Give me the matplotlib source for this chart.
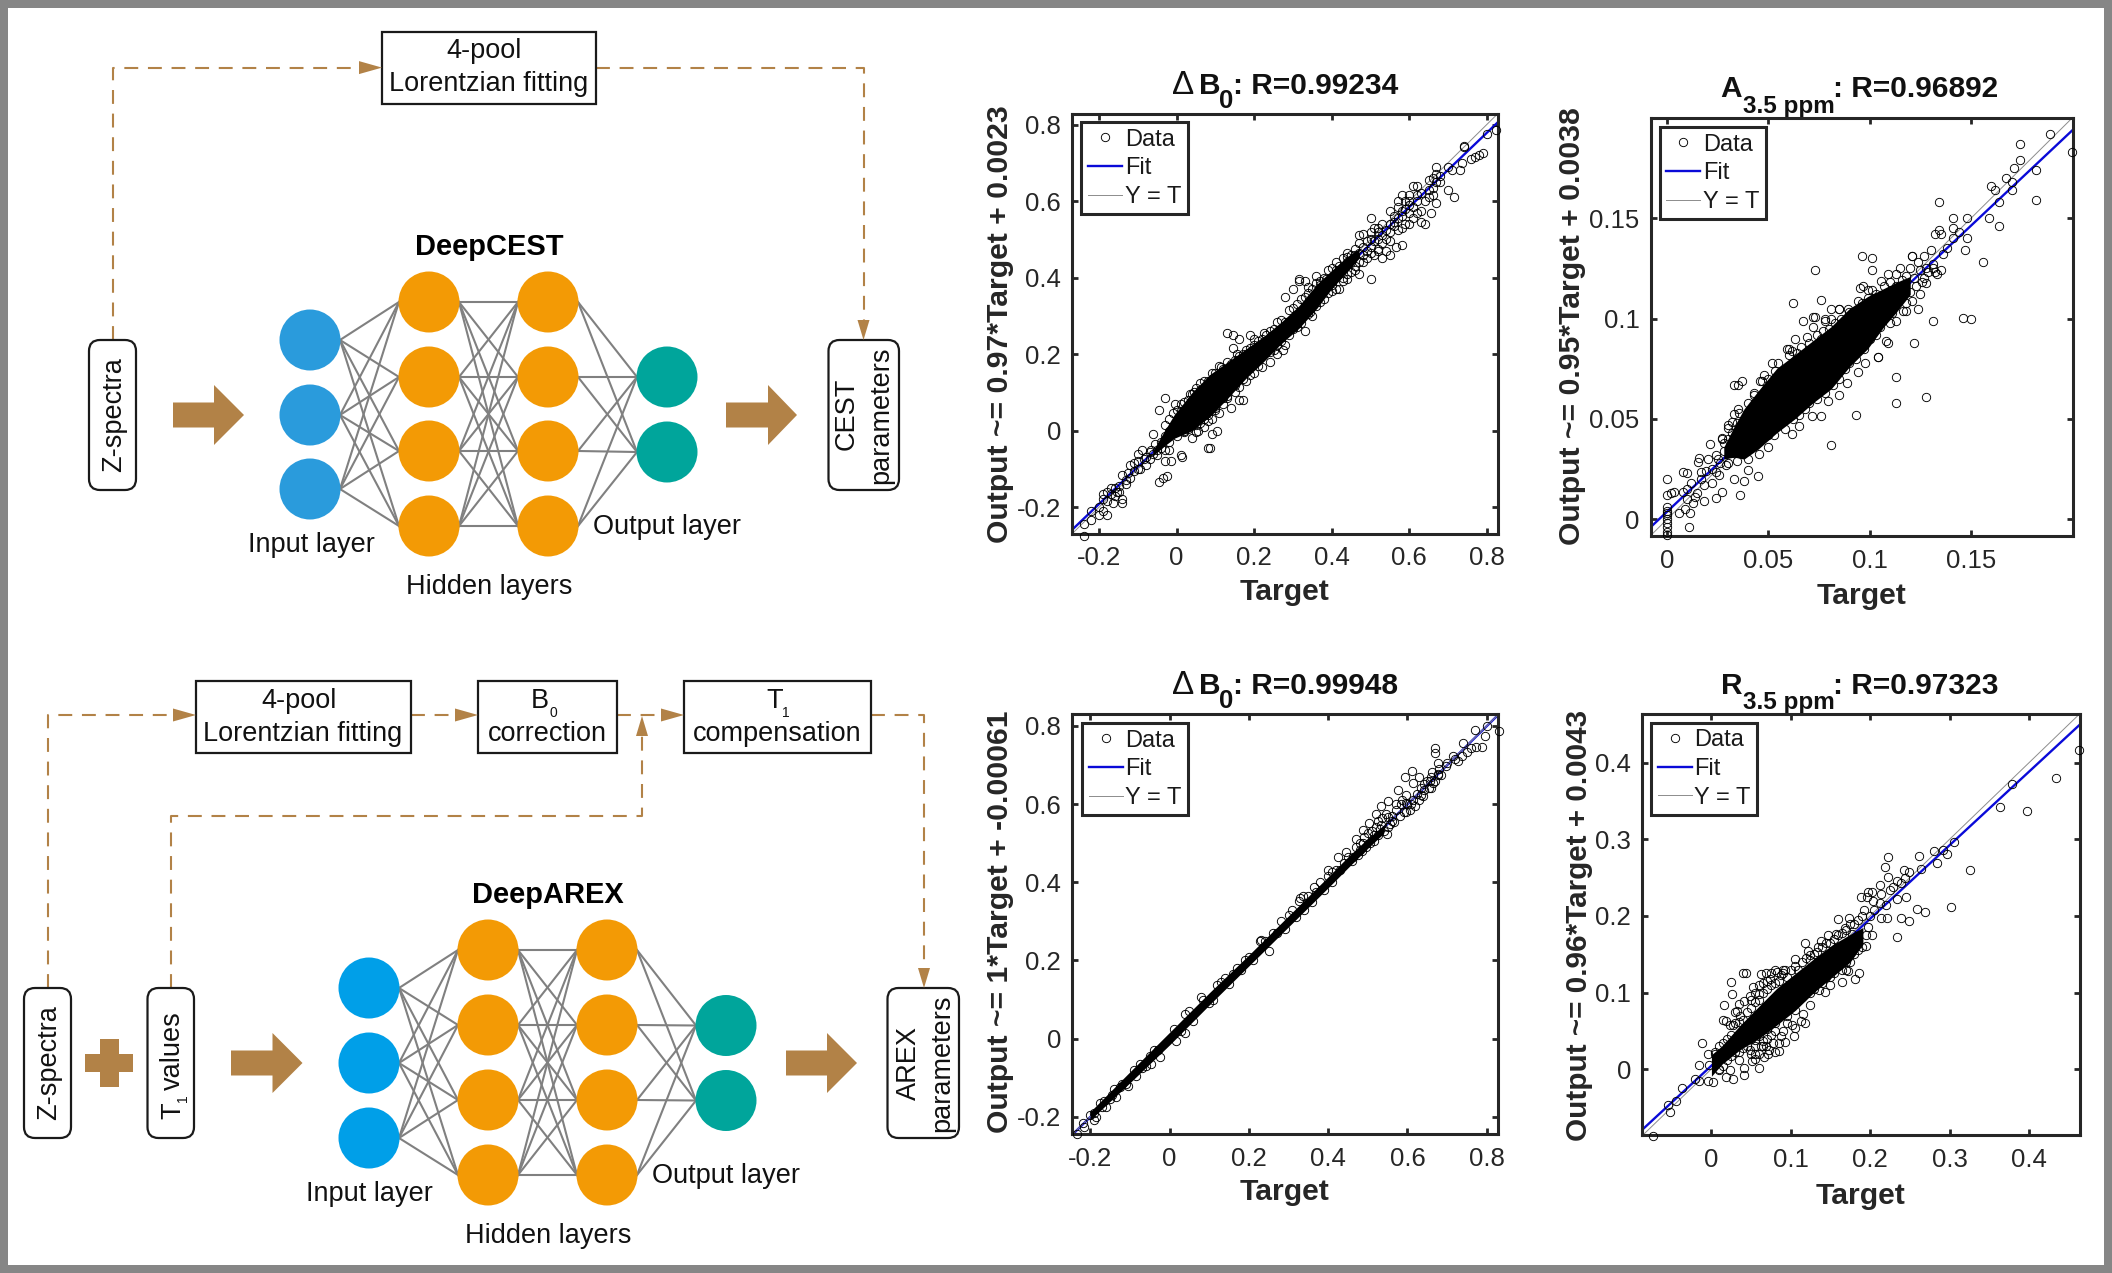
import matplotlib
matplotlib.use("Agg")
import matplotlib.pyplot as plt
from matplotlib.patches import Rectangle, Ellipse, FancyBboxPatch, Polygon

plt.rcParams['font.family'] = ['Liberation Sans', 'DejaVu Sans']
plt.rcParams['lines.scale_dashes'] = False

INK = '#262626'
BROWN = '#B28247'
GREY = '#808080'
ORANGE = '#F39A05'
TEAL = '#00A59B'

# ---------- panel data ----------
ticks_a = [-0.2, 0, 0.2, 0.4, 0.6, 0.8]
tick_labels_a = ['-0.2', '0', '0.2', '0.4', '0.6', '0.8']
ticks_b = [0, 0.05, 0.1, 0.15]
tick_labels_b = ['0', '0.05', '0.1', '0.15']
ticks_d = [0, 0.1, 0.2, 0.3, 0.4]
tick_labels_d = ['0', '0.1', '0.2', '0.3', '0.4']

fit_a = (0.97, 0.0023)
fit_b = (0.95, 0.0038)
fit_c = (1.0, -0.00061)
fit_d = (0.96, 0.0043)

# dense core of each cloud: target, lower output edge, upper output edge
core_a_x = [-0.06, -0.034, -0.006, 0.04, 0.086, 0.132, 0.178, 0.224, 0.27, 0.316, 0.362, 0.399, 0.44, 0.47]
core_a_lo = [-0.065, -0.042, -0.02, 0.0, 0.037, 0.085, 0.136, 0.18, 0.228, 0.268, 0.32, 0.37, 0.415, 0.45]
core_a_hi = [-0.05, -0.005, 0.042, 0.1, 0.147, 0.18, 0.213, 0.246, 0.284, 0.327, 0.383, 0.418, 0.455, 0.475]

core_b_x = [0.028, 0.033, 0.038, 0.045, 0.054, 0.063, 0.072, 0.081, 0.090, 0.099, 0.107, 0.113, 0.12]
core_b_lo = [0.03, 0.031, 0.030, 0.035, 0.043, 0.05, 0.058, 0.065, 0.076, 0.085, 0.096, 0.103, 0.112]
core_b_hi = [0.036, 0.046, 0.055, 0.064, 0.075, 0.082, 0.089, 0.096, 0.105, 0.111, 0.115, 0.118, 0.121]

core_c_x = [-0.2, -0.1, 0, 0.1, 0.2, 0.3, 0.4, 0.45, 0.5, 0.54]
core_c_lo = [-0.208, -0.113, -0.016, 0.086, 0.186, 0.286, 0.386, 0.437, 0.487, 0.525]
core_c_hi = [-0.187, -0.085, 0.016, 0.117, 0.214, 0.314, 0.414, 0.465, 0.512, 0.545]

core_d_x = [0.0005, 0.014, 0.037, 0.06, 0.083, 0.106, 0.129, 0.152, 0.175, 0.191]
core_d_lo = [-0.009, 0.007, 0.026, 0.04, 0.058, 0.077, 0.1, 0.12, 0.14, 0.163]
core_d_hi = [0.019, 0.031, 0.058, 0.082, 0.106, 0.125, 0.144, 0.162, 0.176, 0.185]

# individually visible circles (target, output)
points_a = [
 (0.823,0.785),(0.80,0.775),(0.78,0.72),(0.77,0.715),(0.79,0.725),(0.76,0.71),(0.74,0.745),(0.74,0.74),(0.73,0.68),
 (0.735,0.70),(0.71,0.68),(0.70,0.69),(0.67,0.69),(0.67,0.67),(0.66,0.66),(0.67,0.65),(0.68,0.65),(0.65,0.63),
 (0.66,0.635),(0.70,0.63),(0.715,0.61),(0.67,0.595),(0.61,0.64),(0.62,0.64),(0.58,0.615),(0.57,0.60),(0.60,0.59),
 (0.62,0.60),(0.64,0.60),(0.63,0.575),(0.655,0.57),(0.64,0.54),(0.60,0.57),(0.58,0.56),(0.56,0.56),(0.55,0.52),
 (0.50,0.555),(0.53,0.54),(0.52,0.53),(0.48,0.515),(0.47,0.51),(0.52,0.50),(0.54,0.50),(0.56,0.535),(0.58,0.53),
 (0.60,0.54),(0.565,0.48),(0.58,0.485),(0.55,0.46),(0.53,0.45),(0.54,0.47),(0.45,0.46),(0.49,0.47),(0.50,0.48),
 (0.43,0.45),(0.44,0.44),(0.46,0.43),(0.48,0.44),(0.41,0.42),(0.42,0.43),(0.50,0.395),(0.46,0.42),(0.43,0.40),
 (0.39,0.42),(0.36,0.405),(0.315,0.39),(0.315,0.395),(0.30,0.37),(0.28,0.35),(0.34,0.36),(0.33,0.39),(0.38,0.37),
 (0.42,0.37),(0.37,0.39),(0.345,0.31),(0.31,0.27),(0.275,0.21),(0.26,0.20),(0.13,0.255),(0.145,0.25),(0.19,0.25),
 (0.16,0.24),(0.145,0.215),(0.2,0.24),(0.155,0.20),(0.225,0.255),(0.115,0.165),(0.06,0.125),(0.08,0.13),(0.045,0.10),
 (-0.03,0.085),(-0.045,0.055),(-0.005,0.07),(0.01,0.07),(0.02,0.05),(0.12,0.07),(0.15,0.10),(0.17,0.08),(0.16,0.08),
 (0.14,0.06),(0.10,0.055),(0.105,0.0),(0.07,0.01),(0.09,-0.01),(0.085,-0.045),(0.08,-0.045),(0.055,0.0),(0.04,-0.02),
 (0.01,-0.065),(0.015,-0.07),(-0.02,-0.05),(-0.03,-0.08),(-0.015,-0.08),(-0.025,-0.12),(-0.035,-0.125),(-0.045,-0.135),
 (-0.24,-0.275),(-0.24,-0.245),(-0.22,-0.235),(-0.22,-0.21),(-0.19,-0.21),(-0.18,-0.22),(-0.18,-0.16),(-0.16,-0.15),
 (-0.15,-0.145),(-0.14,-0.18),(-0.14,-0.19),(-0.14,-0.115),(-0.12,-0.09),(-0.1,-0.06),(-0.09,-0.05),(-0.06,-0.01),
 (-0.03,0.015),(-0.2,-0.2),(-0.19,-0.18),(-0.17,-0.165),(-0.165,-0.19),(-0.155,-0.16),(-0.13,-0.14),(-0.125,-0.11),
 (-0.11,-0.105),(-0.1,-0.1),(-0.085,-0.075),(-0.07,-0.075),(-0.065,-0.05),(-0.05,-0.05),(-0.04,-0.03),(-0.02,-0.03),
 (0.0,0.01),(0.02,-0.005),(0.05,0.015),(0.08,0.025),(0.13,0.085),(0.18,0.13),(0.2,0.15),(0.24,0.18),(0.28,0.225),
 (0.33,0.26),(0.35,0.3),(0.38,0.345),(0.40,0.365),(0.44,0.395),(0.47,0.41),(0.51,0.46),(0.52,0.47),(0.48,0.46),
 (0.035,0.095),(0.09,0.15),(0.11,0.17),(0.15,0.185),(0.19,0.215),(0.23,0.25),(0.26,0.285),(0.29,0.315),(0.31,0.33),
 (0.34,0.375),(0.38,0.40),(0.40,0.425),(0.44,0.465),(0.46,0.475),(0.47,0.49),(0.50,0.52),(0.51,0.53),(0.55,0.575),
 (0.57,0.585),(0.59,0.60),(0.60,0.615),(0.63,0.62),(0.65,0.655),
]
edge_a = [
 (-0.02,0.03),(-0.01,0.045),(0.0,0.055),(0.01,0.05),(0.02,0.075),(0.03,0.08),(0.04,0.095),(0.05,0.11),(0.06,0.105),
 (0.07,0.13),(0.08,0.115),(0.09,0.135),(0.1,0.15),(0.11,0.145),(0.12,0.16),(0.13,0.18),(0.14,0.175),(0.16,0.195),
 (0.17,0.2),(0.18,0.21),(0.2,0.225),(0.21,0.235),(0.22,0.24),(0.24,0.26),(0.25,0.265),(0.27,0.29),(0.28,0.285),
 (0.3,0.32),(0.32,0.345),(0.33,0.35),(0.35,0.37),(0.36,0.385),(0.37,0.38),(0.385,0.395),(0.41,0.44),(0.42,0.42),
 (0.43,0.425),(0.44,0.455),(0.45,0.44),(0.46,0.46),(0.47,0.465),(0.48,0.48),(0.49,0.495),(0.5,0.5),(0.51,0.495),
 (0.52,0.52),(0.53,0.51),(0.54,0.525),(0.55,0.54),(0.56,0.545),(0.57,0.555),(0.58,0.575),(0.59,0.58),(0.6,0.6),
 (0.61,0.585),(0.62,0.615),(0.65,0.61),(0.66,0.615),(0.68,0.665),
 (0.0,-0.015),(0.02,0.0),(0.03,0.005),(0.05,-0.005),(0.06,0.02),(0.07,0.03),(0.08,0.04),(0.09,0.03),(0.1,0.06),
 (0.11,0.045),(0.12,0.085),(0.13,0.09),(0.15,0.12),(0.16,0.115),(0.17,0.135),(0.19,0.145),(0.21,0.17),(0.22,0.165),
 (0.24,0.205),(0.25,0.21),(0.26,0.225),(0.27,0.235),(0.29,0.25),(0.3,0.265),(0.32,0.28),(0.34,0.305),(0.36,0.325),
 (0.37,0.335),(0.39,0.36),(0.4,0.38),(0.41,0.37),(0.43,0.39),(0.44,0.41),(0.45,0.415),(0.47,0.44),(0.49,0.45),
 (0.5,0.465),(0.52,0.475),(0.53,0.49),(0.55,0.495),(0.57,0.525),(0.59,0.54),(0.61,0.555),(0.62,0.57),(0.63,0.545),
 (-0.13,-0.13),(-0.12,-0.125),(-0.11,-0.085),(-0.1,-0.08),(-0.095,-0.1),(-0.08,-0.07),(-0.08,-0.09),(-0.07,-0.055),
 (-0.06,-0.06),(-0.055,-0.035),(-0.05,-0.065),(-0.04,-0.045),(-0.03,-0.015),(-0.03,-0.05),(-0.02,0.0),(-0.15,-0.16),
 (-0.16,-0.17),(-0.17,-0.15),(-0.18,-0.185),(-0.19,-0.165),(-0.2,-0.22),
]

points_b = [
 (0.189,0.192),(0.174,0.187),(0.20,0.183),(0.174,0.179),(0.171,0.175),(0.182,0.174),(0.167,0.170),(0.170,0.168),
 (0.160,0.166),(0.162,0.164),(0.170,0.164),(0.182,0.159),(0.134,0.158),(0.164,0.158),(0.159,0.150),(0.141,0.150),
 (0.148,0.150),(0.164,0.146),(0.141,0.145),(0.134,0.144),(0.135,0.142),(0.132,0.142),(0.144,0.143),(0.148,0.140),
 (0.141,0.140),(0.138,0.135),(0.147,0.134),(0.156,0.128),(0.130,0.134),(0.127,0.131),(0.121,0.131),(0.124,0.128),
 (0.136,0.132),(0.133,0.122),(0.131,0.125),(0.129,0.123),(0.127,0.120),
 (0.096,0.131),(0.101,0.130),(0.101,0.124),(0.073,0.124),(0.095,0.115),(0.099,0.114),(0.062,0.108),(0.076,0.109),
 (0.081,0.105),(0.085,0.105),(0.067,0.099),(0.073,0.101),(0.078,0.100),(0.146,0.1005),(0.150,0.100),(0.131,0.099),
 (0.122,0.088),(0.109,0.088),(0.104,0.081),(0.113,0.071),(0.113,0.058),(0.128,0.061),(0.093,0.052),(0.081,0.037),
 (0.033,0.067),(0.035,0.067),(0.037,0.069),(0.047,0.069),(0.052,0.078),(0.060,0.085),(0.0615,0.084),(0.072,0.101),
 (0.045,0.0215),(0.036,0.012),(0.011,-0.004),(0,0.020),(0.008,0.0237),(0.010,0.023),(0,0.012),(0.002,0.013),
 (0.0035,0.0137),(0.008,0.0137),(0.010,0.015),(0.0115,0.003),(0.006,0.003),(0.009,0.005),
 (0,0.006),(0,0.004),(0,0.003),(0,0.002),(0,0),(0,-0.002),(0,-0.004),(0,-0.0065),(0,-0.008),
 (0.021,0.0376),(0.0157,0.0306),(0.0153,0.0286),(0.027,0.04),(0.015,0.013),(0.018,0.009),(0.013,0.008),(0.024,0.0105),
 (0.027,0.0137),(0.033,0.02),(0.038,0.019),(0.04,0.0246),(0.0346,0.029),(0.029,0.027),(0.022,0.018),(0.018,0.017),
 (0.0256,0.022),(0.024,0.0237),(0.0166,0.0237),
 (0.033,0.0526),(0.0355,0.053),(0.032,0.0487),(0.027,0.0403),(0.03,0.0454),(0.0346,0.048),(0.0427,0.0617),(0.046,0.069),
 (0.049,0.065),(0.0535,0.074),(0.059,0.085),(0.063,0.0897),(0.069,0.0906),(0.072,0.096),(0.078,0.0988),(0.077,0.094),
 (0.081,0.0997),(0.085,0.105),(0.0895,0.105),(0.094,0.1087),(0.0967,0.116),(0.101,0.114),(0.1057,0.1187),(0.109,0.122),
 (0.113,0.122),(0.115,0.125),(0.12,0.125),(0.121,0.131),
 (0.0454,0.0327),(0.0526,0.0418),(0.0616,0.0427),(0.065,0.0463),(0.0715,0.0517),(0.076,0.0517),(0.0796,0.059),
 (0.085,0.0617),(0.0886,0.068),(0.094,0.0735),(0.0976,0.078),(0.104,0.0807),(0.108,0.0888),(0.113,0.0988),(0.111,0.103),
 (0.1165,0.104),(0.118,0.104),(0.1237,0.105),(0.1246,0.1124),(0.121,0.1087),(0.128,0.1178),(0.135,0.124),(0.132,0.123),
 (0.131,0.127),
]
edge_b = [
 (0.03,0.047),(0.035,0.055),(0.04,0.058),(0.043,0.063),(0.048,0.072),(0.05,0.07),(0.055,0.078),(0.058,0.074),(0.06,0.082),
 (0.064,0.083),(0.066,0.086),(0.07,0.088),(0.074,0.092),(0.076,0.09),(0.08,0.095),(0.083,0.098),(0.086,0.1),(0.09,0.1035),
 (0.093,0.104),(0.096,0.108),(0.099,0.11),(0.103,0.112),(0.107,0.116),(0.11,0.118),(0.113,0.116),(0.116,0.119),
 (0.118,0.121),(0.122,0.12),(0.125,0.124),(0.128,0.125),
 (0.025,0.03),(0.028,0.034),(0.03,0.028),(0.033,0.033),(0.036,0.036),(0.04,0.03),(0.042,0.037),(0.046,0.04),(0.05,0.036),
 (0.05,0.042),(0.055,0.049),(0.058,0.045),(0.062,0.05),(0.065,0.052),(0.068,0.055),(0.07,0.058),(0.074,0.06),(0.078,0.063),
 (0.082,0.067),(0.085,0.07),(0.088,0.075),(0.09,0.078),(0.093,0.08),(0.097,0.085),(0.1,0.09),(0.103,0.092),(0.105,0.096),
 (0.11,0.098),(0.112,0.1065),(0.115,0.11),(0.118,0.108),(0.12,0.113),(0.123,0.116),(0.126,0.118),
 (0.02,0.03),(0.022,0.025),(0.024,0.032),(0.026,0.028),(0.028,0.038),(0.03,0.04),(0.032,0.043),(0.019,0.024),(0.017,0.02),
 (0.012,0.018),(0.014,0.011),(0.01,0.01),
]

points_c = [
 (0.83,0.787),(0.8,0.8),(0.771,0.79),(0.795,0.775),(0.788,0.747),(0.773,0.747),(0.761,0.744),(0.741,0.756),(0.737,0.724),
 (0.714,0.724),(0.728,0.71),(0.70,0.705),(0.669,0.744),(0.669,0.731),(0.678,0.705),(0.662,0.682),(0.611,0.685),
 (0.629,0.668),(0.593,0.668),(0.575,0.636),(0.615,0.654),(0.642,0.65),(0.66,0.64),(0.597,0.622),(0.552,0.608),
 (0.534,0.594),(0.52,0.575),(0.503,0.552),(0.525,0.557),(0.489,0.533),(0.471,0.51),(0.444,0.478),(0.426,0.464),
 (0.399,0.431),(0.363,0.389),(0.327,0.352),(0.336,0.366),(0.25,0.224),(0.228,0.25),(0.079,0.106),(0.039,0.064),
 (-0.024,-0.047),(-0.047,-0.066),(-0.191,-0.207),(-0.218,-0.215),(-0.234,-0.243),(0.606,0.585),(0.633,0.622),
 (0.66,0.668),(0.678,0.678),(0.548,0.524),(0.561,0.557),(0.597,0.603),(0.57,0.585),(0.584,0.6),(0.534,0.547),
 (0.516,0.52),(0.489,0.501),(0.462,0.464),(0.48,0.482),(0.552,0.566),(0.642,0.636),(0.656,0.659),(0.678,0.673),
 (0.696,0.696),(0.75,0.733),(0.719,0.715),
 (-0.19,-0.19),(-0.17,-0.175),(-0.165,-0.16),(-0.145,-0.145),(-0.125,-0.125),(-0.11,-0.115),(-0.09,-0.08),(-0.07,-0.075),
 (-0.05,-0.045),(-0.03,-0.03),(0.12,0.138),(0.14,0.155),(0.16,0.165),(0.2,0.21),(0.23,0.252),(0.3,0.315),(0.33,0.36),
 (0.35,0.365),(0.38,0.4),(0.41,0.425),(0.27,0.27),(0.18,0.175),(0.1,0.09),(0.03,0.02),(0.04,0.015),
]
edge_c = [
 (0.42,0.43),(0.43,0.43),(0.44,0.45),(0.45,0.465),(0.46,0.455),(0.47,0.49),(0.475,0.47),(0.48,0.5),(0.485,0.48),(0.49,0.515),
 (0.495,0.49),(0.5,0.525),(0.505,0.5),(0.51,0.53),(0.515,0.505),(0.52,0.54),(0.525,0.52),(0.53,0.535),(0.535,0.565),
 (0.54,0.53),(0.545,0.575),(0.55,0.54),(0.555,0.55),(0.56,0.57),(0.565,0.555),(0.57,0.6),(0.58,0.57),(0.585,0.61),
 (0.59,0.58),(0.595,0.58),(0.6,0.6),(0.61,0.6),(0.615,0.61),(0.62,0.595),(0.625,0.625),(0.63,0.61),(0.635,0.64),
 (0.64,0.62),(0.65,0.66),(0.655,0.64),(0.665,0.655),(0.67,0.66),(0.68,0.69),(0.685,0.675),
 (-0.215,-0.225),(-0.2,-0.195),(-0.185,-0.2),(-0.175,-0.165),(-0.16,-0.175),(-0.15,-0.155),(-0.14,-0.13),(-0.135,-0.15),
 (-0.12,-0.115),(-0.105,-0.12),(-0.085,-0.095),(-0.075,-0.065),(-0.06,-0.07),(-0.04,-0.03),(0.01,0.025),(0.015,-0.005),
 (0.05,0.07),(0.06,0.045),(0.085,0.1),(0.11,0.1),(0.13,0.145),(0.15,0.14),(0.17,0.18),(0.19,0.2),(0.21,0.2),(0.24,0.25),
 (0.26,0.27),(0.28,0.3),(0.29,0.28),(0.31,0.33),(0.32,0.31),(0.34,0.33),(0.36,0.35),(0.37,0.375),(0.39,0.38),(0.40,0.415),
 (0.41,0.4),
]

points_d = [
 (0.463,0.417),(0.434,0.380),(0.397,0.337),(0.379,0.372),(0.363,0.342),(0.306,0.2966),(0.326,0.260),(0.3013,0.2117),
 (0.292,0.286),(0.2967,0.2805),(0.284,0.2686),(0.28,0.2848),(0.262,0.2776),(0.223,0.2767),(0.2187,0.264),(0.2646,0.2615),
 (0.2425,0.2596),(0.2485,0.2568),(0.222,0.2506),(0.244,0.2496),(0.239,0.2435),(0.234,0.2458),(0.229,0.2378),(0.212,0.241),
 (0.2255,0.234),(0.245,0.2245),(0.234,0.222),(0.214,0.229),(0.2026,0.2316),(0.197,0.2316),(0.189,0.2245),(0.1957,0.2245),
 (0.2035,0.2197),(0.213,0.2174),(0.22,0.214),(0.205,0.208),(0.259,0.209),(0.269,0.2055),(0.221,0.198),(0.214,0.197),
 (0.2384,0.1974),(0.2494,0.194),(0.2338,0.173),(0.2026,0.1747),(0.1948,0.1604),(0.1603,0.196),(0.1736,0.197),(0.2,0.2),
 (0.193,0.208),
 (0.044,0.1258),(0.0404,0.1258),(0.0257,0.1144),(0.0266,0.0978),(0.0165,0.0845),(0.0625,0.1248),(0.0694,0.1258),
 (0.081,0.1296),(0.083,0.127),(0.0877,0.1224),(0.074,0.1177),(0.0657,0.113),(0.0533,0.108),(0.06,0.0987),(0.0487,0.0963),
 (0.0418,0.0892),(0.0326,0.0764),(0.0363,0.0702),(0.0156,0.064),(0.0188,0.063),(0.028,0.0584),(0.0234,0.0584),
 (-0.011,0.0346),(-0.004,0.0204),(0.005,0.0228),(-0.0152,0.0062),(-0.002,0.0062),(-0.02,-0.0128),(-0.0363,-0.0247),
 (-0.0446,-0.0413),(-0.0547,-0.047),(-0.052,-0.0555),(-0.073,-0.0864),(-0.0156,-0.015),
 (0.1176,0.165),(0.122,0.154),(0.106,0.1438),(0.0932,0.1296),(0.1337,0.153),(0.138,0.1675),(0.1475,0.1747),(0.1245,0.1485),
 (0.1566,0.177),(0.168,0.184),(0.177,0.177),
 (0.1856,0.126),(0.181,0.1177),(0.165,0.1144),(0.17,0.1296),(0.1727,0.1286),(0.1497,0.1106),(0.143,0.101),(0.136,0.1035),
 (0.1185,0.0598),(0.1135,0.0631),(0.106,0.0536),(0.1015,0.0584),(0.0932,0.0356),(0.0854,0.0237),(0.081,0.0228),
 (0.0717,0.0204),(0.067,0.0157),(0.06,0.0014),(0.0556,0.0133),(0.051,0.0109),(0.035,0.0119),(0.0418,0.0014),(0.0418,-0.007),
 (0.028,-0.0128),(0.0234,-0.001),(0.0188,-0.0104),(0.0096,-0.001),(0.0028,-0.016),(-0.004,-0.015),(0.0694,0.03),
 (0.0785,0.0346),(0.06,0.044),(0.0648,0.037),(0.0487,0.025),(0.0556,0.03),(0.0877,0.044),(0.1038,0.044),(0.1153,0.0726),
 (0.1245,0.0845),
]
edge_d = [
 (0.005,0.02),(0.01,0.03),(0.015,0.035),(0.02,0.04),(0.025,0.045),(0.03,0.06),(0.035,0.062),(0.04,0.065),(0.045,0.075),
 (0.05,0.08),(0.055,0.088),(0.06,0.09),(0.065,0.1),(0.07,0.105),(0.075,0.11),(0.08,0.112),(0.085,0.115),(0.09,0.125),
 (0.095,0.12),(0.1,0.13),(0.105,0.135),(0.11,0.13),(0.115,0.14),(0.12,0.145),(0.125,0.142),(0.13,0.15),(0.135,0.16),
 (0.14,0.16),(0.145,0.165),(0.15,0.165),(0.155,0.17),(0.16,0.175),(0.165,0.178),(0.17,0.182),(0.175,0.19),(0.18,0.19),
 (0.185,0.195),(0.19,0.2),
 (0.01,0.0),(0.015,0.005),(0.02,0.012),(0.025,0.018),(0.03,0.022),(0.035,0.022),(0.04,0.028),(0.045,0.03),(0.05,0.04),
 (0.055,0.038),(0.06,0.05),(0.065,0.055),(0.07,0.052),(0.075,0.065),(0.08,0.06),(0.085,0.07),(0.09,0.075),(0.095,0.07),
 (0.1,0.085),(0.105,0.078),(0.11,0.09),(0.115,0.095),(0.12,0.1),(0.125,0.1),(0.13,0.105),(0.135,0.115),(0.14,0.112),
 (0.145,0.12),(0.15,0.12),(0.155,0.125),(0.16,0.135),(0.165,0.13),(0.17,0.14),(0.175,0.14),(0.18,0.15),(0.185,0.155),
 (0.19,0.16),(0.195,0.175),(0.198,0.185),
 (0.03,0.075),(0.035,0.085),(0.05,0.09),(0.055,0.1),(0.06,0.11),(0.07,0.115),(0.075,0.125),(0.09,0.13),(0.05,0.02),
 (0.06,0.02),(0.065,0.03),(0.07,0.04),(0.075,0.045),(0.08,0.05),(0.085,0.035),(0.09,0.05),(0.095,0.06),(0.055,0.02),
 (0.0625,0.03),(0.0725,0.025),
]

# ---------- figure and pixel overlay for the schematic ----------
W, H = 2112, 1273
fig = plt.figure(figsize=(W / 100, H / 100), dpi=100, facecolor='white')
ov = fig.add_axes([0, 0, 1, 1], zorder=0)
ov.set_xlim(0, W)
ov.set_ylim(H, 0)
ov.axis('off')
PX = 0.72  # points per pixel

ov.add_patch(Rectangle((4, 4), W - 8, H - 8, fill=False, ec='#868686', lw=8 * PX))


def txt(x, y, s, size=19.5, rot=0, weight='normal', color='#111111', ha='center'):
    ov.text(x, y, s, fontsize=size, rotation=rot, fontweight=weight, color=color, ha=ha, va='baseline',
            rotation_mode='anchor')


def box(x0, y0, x1, y1):
    ov.add_patch(Rectangle((x0, y0), x1 - x0, y1 - y0, fc='white', ec='#1a1a1a', lw=1.6, zorder=3))


def rbox(x0, y0, x1, y1):
    ov.add_patch(FancyBboxPatch((x0 + 11, y0 + 11), x1 - x0 - 22, y1 - y0 - 22, boxstyle='round,pad=11,rounding_size=11',
                                fc='white', ec='#1a1a1a', lw=1.6, zorder=3))


def dash(xs, ys):
    ov.plot(xs, ys, color=BROWN, lw=1.5, ls=(0, (10, 7)), zorder=2, solid_capstyle='butt', dash_capstyle='butt')


def head(tip, direction):
    x, y = tip
    if direction == 'r':
        pts = [(x, y), (x - 23, y - 6.5), (x - 23, y + 6.5)]
    elif direction == 'd':
        pts = [(x, y), (x - 6, y - 20), (x + 6, y - 20)]
    else:
        pts = [(x, y), (x - 6, y + 20), (x + 6, y + 20)]
    ov.add_patch(Polygon(pts, fc=BROWN, ec='none', zorder=4))


def big_arrow(x0, x1, xh, yc):
    pts = [(x0, yc - 12.5), (xh, yc - 12.5), (xh, yc - 30), (x1, yc), (xh, yc + 30), (xh, yc + 12.5), (x0, yc + 12.5)]
    ov.add_patch(Polygon(pts, fc=BROWN, ec='none', zorder=2))


def network(x_cols, rows, colors):
    for c in range(len(x_cols) - 1):
        for ya in rows[c]:
            for yb in rows[c + 1]:
                ov.plot([x_cols[c] + 30, x_cols[c + 1] - 30], [ya, yb], color=GREY, lw=1.5, zorder=1)
    for xc, ys, col in zip(x_cols, rows, colors):
        for yc in ys:
            ov.add_patch(Ellipse((xc, yc), 61, 61, fc=col, ec='none', zorder=3))


# --- top schematic ---
dash([113, 113, 362], [340, 67.6, 67.6])
dash([596, 863.5, 863.5], [67.6, 67.6, 322])
head((382, 67.6), 'r')
head((863.5, 340), 'd')
box(382, 32, 596, 103.5)
txt(484, 58, '4-pool')
txt(489, 91, 'Lorentzian fitting')
rbox(89, 340, 136, 490)
txt(121, 415, 'Z-spectra', rot=90)
rbox(828.5, 340, 899, 490)
txt(854, 414, 'CEST', rot=90)
txt(888, 415, 'parameters', rot=90)
big_arrow(173, 244, 214, 415)
big_arrow(726, 797, 768, 415)
network([310, 429, 548, 667], [[340, 415, 489], [302, 377, 451, 526], [302, 377, 451, 526], [377, 452]],
        ['#2A9BDC', ORANGE, ORANGE, TEAL])
txt(489, 255, 'DeepCEST', size=20.9, weight='bold', color='black')
txt(311, 552, 'Input layer')
txt(489, 594, 'Hidden layers')
txt(667, 534, 'Output layer')

# --- bottom schematic ---
dash([47.5, 47.5, 176], [988, 715, 715])
dash([411, 458], [715, 715])
dash([617, 664], [715, 715])
dash([871, 924, 924], [715, 715, 970])
dash([171, 171, 642, 642], [988, 816, 816, 735])
head((196, 715), 'r')
head((478, 715), 'r')
head((684, 715), 'r')
head((642, 716), 'u')
head((924, 988), 'd')
box(196, 681, 411, 753)
txt(299, 707.6, '4-pool')
txt(303, 740.6, 'Lorentzian fitting')
box(478, 681, 617, 753)
txt(540, 708, 'B')
txt(553, 716.7, '0', size=10)
txt(547.5, 741, 'correction')
box(684, 681, 871, 753)
txt(775, 708, 'T')
txt(786, 716.7, '1', size=10)
txt(777.5, 741, 'compensation')
rbox(24, 988, 71, 1138)
txt(56, 1063, 'Z-spectra', rot=90)
rbox(147.5, 988, 194, 1138)
txt(180, 1111, 'T', rot=90)
txt(187.5, 1098, '1', size=10, rot=90)
txt(180, 1051, 'values', rot=90)
rbox(887.5, 988, 959, 1138)
txt(915.6, 1063, 'AREX', rot=90)
txt(949, 1063, 'parameters', rot=90)
ov.add_patch(Polygon([(100, 1039), (119, 1039), (119, 1054), (133, 1054), (133, 1072), (119, 1072), (119, 1087),
                      (100, 1087), (100, 1072), (85, 1072), (85, 1054), (100, 1054)], fc=BROWN, ec='none'))
big_arrow(231, 302.5, 272.5, 1063)
big_arrow(786, 857, 827, 1063)
network([369, 488, 607, 726], [[988, 1063, 1138], [950, 1025, 1100, 1175], [950, 1025, 1100, 1175], [1025.5, 1100.5]],
        ['#009FE8', ORANGE, ORANGE, TEAL])
txt(547.5, 902.7, 'DeepAREX', size=20.9, weight='bold', color='black')
txt(369, 1201, 'Input layer')
txt(548, 1243, 'Hidden layers')
txt(726, 1183, 'Output layer')


# ---------- regression panels ----------
def panel(rect, xlim, ylim, xt, xl, yt, yl, fit, core, pts, ylabel, ylab_xy, ylab_size, xlab_y, leg_xy):
    x0, y0, x1, y1 = rect
    ax = fig.add_axes([x0 / W, 1 - y1 / H, (x1 - x0) / W, (y1 - y0) / H], zorder=1)
    ax.set_xlim(xlim)
    ax.set_ylim(ylim)
    m, b = fit
    h_fit, = ax.plot(xlim, [m * xlim[0] + b, m * xlim[1] + b], color='#0A0AD8', lw=1.7, zorder=2, label='Fit')
    h_yt, = ax.plot(xlim, xlim, color='#8c8c8c', lw=0.7, zorder=2, label='Y = T')
    ax.fill_between(core[0], core[1], core[2], color='black', lw=0, zorder=3)
    tx = [p[0] for p in pts]
    ty = [p[1] for p in pts]
    h_data, = ax.plot(tx, ty, ls='none', marker='o', mfc='none', mec='black', mew=0.65, ms=6, clip_on=False,
                      zorder=4, label='Data')
    ax.set_xticks(xt, labels=xl)
    ax.set_yticks(yt, labels=yl)
    ax.tick_params(direction='in', length=4, width=2, top=True, right=True, color=INK, labelcolor=INK,
                   labelsize=18.5)
    ax.tick_params(axis='x', pad=9)
    ax.tick_params(axis='y', pad=8)
    for s in ax.spines.values():
        s.set_linewidth(2.2)
        s.set_color(INK)
    leg = ax.legend(handles=[h_data, h_fit, h_yt], loc='upper left', bbox_to_anchor=leg_xy,
                    bbox_transform=ov.transData, borderaxespad=0, fontsize=17, fancybox=False, framealpha=1,
                    edgecolor=INK, numpoints=1, handlelength=1.44, handletextpad=0.12, borderpad=0.28,
                    labelspacing=0.28, labelcolor='#1a1a1a')
    leg.get_frame().set_linewidth(2.2)
    ov.text((x0 + x1) / 2, xlab_y, 'Target', fontsize=21.7, fontweight='bold', color=INK, ha='center', va='baseline')
    ov.text(ylab_xy[0], ylab_xy[1], ylabel, fontsize=ylab_size, fontweight='bold', color=INK, rotation=90,
            ha='center', va='center')
    return ax


panel((1072, 114.3, 1497.5, 533.5), (-0.27, 0.8276), (-0.269, 0.8267), ticks_a, tick_labels_a, ticks_a, tick_labels_a,
      fit_a, (core_a_x, core_a_lo, core_a_hi), points_a + edge_a, 'Output ~= 0.97*Target + 0.0023', (1000, 324), 21.7,
      600, (1081.4, 122))
panel((1650.6, 118, 2073, 536), (-0.0081, 0.2003), (-0.0083, 0.1999), ticks_b, tick_labels_b, ticks_b, tick_labels_b,
      fit_b, (core_b_x, core_b_lo, core_b_hi), points_b + edge_b, 'Output ~= 0.95*Target + 0.0038', (1571.5, 326), 21.7,
      604, (1659.7, 127))
panel((1072, 714.3, 1497.5, 1134.2), (-0.246, 0.827), (-0.2445, 0.8295), ticks_a, tick_labels_a, ticks_a, tick_labels_a,
      fit_c, (core_c_x, core_c_lo, core_c_hi), points_c + edge_c, 'Output ~= 1*Target + -0.00061', (1000, 921.4), 21.7,
      1200, (1082, 723))
panel((1642, 714.3, 2080, 1135.3), (-0.0868, 0.464), (-0.086, 0.463), ticks_d, tick_labels_d, ticks_d, tick_labels_d,
      fit_d, (core_d_x, core_d_lo, core_d_hi), points_d + edge_d, 'Output ~= 0.96*Target + 0.0043', (1579, 925), 21.3,
      1204, (1651, 722.7))


# ---------- titles ----------
def tt(x, y, s, size=21.5, weight='bold'):
    ov.text(x, y, s, fontsize=size, fontweight=weight, color='#111111', ha='left', va='baseline')


tt(1172, 93.6, '\u0394', size=24, weight='normal')
tt(1198.6, 93.6, 'B')
tt(1219.5, 108, '0', size=18.5)
tt(1233, 93.6, ': R=0.99234')

tt(1720.6, 96.7, 'A')
tt(1742.6, 113, '3.5 ppm', size=17.5)
tt(1833, 96.7, ': R=0.96892')

tt(1172, 693.6, '\u0394', size=24, weight='normal')
tt(1198.6, 693.6, 'B')
tt(1219.5, 708, '0', size=18.5)
tt(1233, 693.6, ': R=0.99948')

tt(1721, 693.6, 'R')
tt(1742.6, 709, '3.5 ppm', size=17.5)
tt(1833, 693.6, ': R=0.97323')

fig.savefig('out.png', dpi=100, facecolor='white')
